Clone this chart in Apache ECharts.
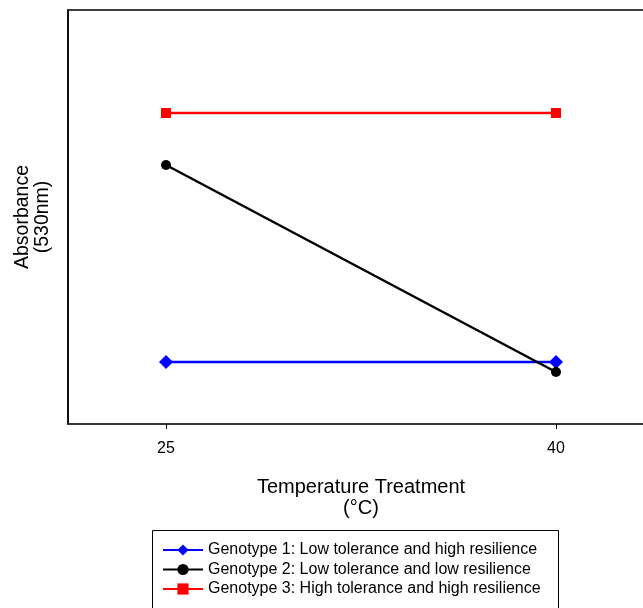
<!DOCTYPE html>
<html>
<head>
<meta charset="utf-8">
<script src="https://cdn.jsdelivr.net/npm/echarts@6/dist/echarts.min.js"></script>
<style>html,body{margin:0;padding:0;background:#fff}#c{width:643px;height:608px}</style>
</head>
<body>
<div id="c"></div>
<script>
var temperatures = [25, 40];
var tickLabels = ['25', '40'];
var seriesNames = [
  'Genotype 1: Low tolerance and high resilience',
  'Genotype 2: Low tolerance and low resilience',
  'Genotype 3: High tolerance and high resilience'
];
var genotype1 = [0.062, 0.062];
var genotype2 = [0.259, 0.052];
var genotype3 = [0.311, 0.311];

function pairs(vals) { return temperatures.map(function (t, i) { return [t, vals[i]]; }); }

var chart = echarts.init(document.getElementById('c'), null, { renderer: 'canvas' });
var font = 'Liberation Sans, Arial, sans-serif';
chart.setOption({
  animation: false,
  textStyle: { fontFamily: font },
  grid: { left: 68, top: 10, right: -11, bottom: 184, show: true, borderColor: '#000', borderWidth: 1.5,
    containLabel: false, outerBoundsMode: 'none' },
  xAxis: {
    type: 'value', min: 21.23, max: 43.77,
    splitLine: { show: false },
    axisLine: { show: true, lineStyle: { color: '#333', width: 1.5 } },
    axisTick: { show: true, length: 5, lineStyle: { color: '#000' }, customValues: temperatures },
    axisLabel: { color: '#000', fontSize: 16, margin: 17, customValues: temperatures,
      formatter: function (v) { var i = temperatures.indexOf(v); return i >= 0 ? tickLabels[i] : ''; } },
    name: 'Temperature Treatment\n(°C)', nameLocation: 'middle', nameGap: 53,
    nameTextStyle: { color: '#000', fontSize: 20, lineHeight: 21 }
  },
  yAxis: {
    type: 'value', min: 0, max: 0.414,
    splitLine: { show: false },
    axisLine: { show: true, onZero: false, lineStyle: { color: '#000', width: 1.5 } },
    axisTick: { show: false }, axisLabel: { show: false },
    name: 'Absorbance\n(530nm)', nameLocation: 'middle', nameGap: 15, nameRotate: 90,
    nameTextStyle: { color: '#000', fontSize: 19.5, lineHeight: 20 }
  },
  graphic: [{
    type: 'rect', silent: true,
    shape: { x: 152.5, y: 530.5, width: 406, height: 84 },
    style: { fill: 'none', stroke: '#000', lineWidth: 1 }
  }],
  legend: {
    orient: 'vertical', left: 152, top: 530,
    padding: [12, 13, 2, 10], itemGap: 3.5, itemWidth: 40, itemHeight: 14,
    textStyle: { color: '#000', fontSize: 16, fontFamily: font },
    data: seriesNames
  },
  series: [
    { name: seriesNames[0], type: 'line', data: pairs(genotype1), symbol: 'diamond', symbolSize: 14,
      lineStyle: { color: '#0000ff', width: 2.5 }, itemStyle: { color: '#0000ff' } },
    { name: seriesNames[1], type: 'line', data: pairs(genotype2), symbol: 'circle', symbolSize: 10,
      lineStyle: { color: '#000', width: 2.5 }, itemStyle: { color: '#000' } },
    { name: seriesNames[2], type: 'line', data: pairs(genotype3), symbol: 'rect', symbolSize: 10,
      lineStyle: { color: '#ff0000', width: 2.5 }, itemStyle: { color: '#ff0000' } }
  ]
});
</script>
</body>
</html>
